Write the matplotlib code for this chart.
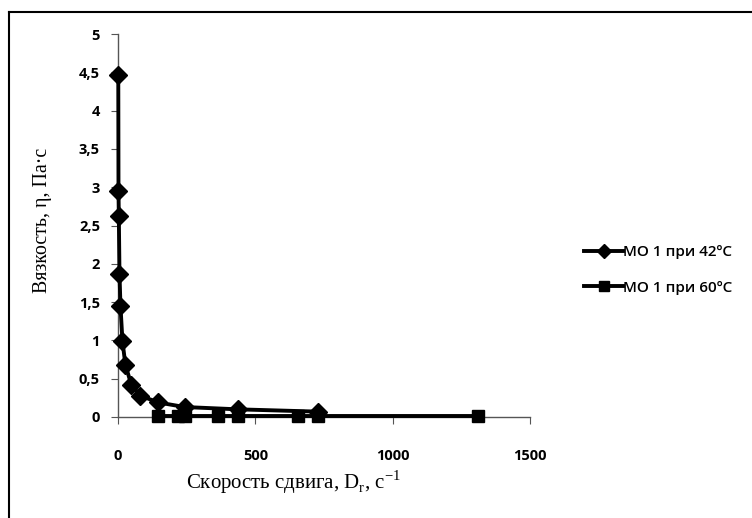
import numpy as np
import matplotlib
matplotlib.use("Agg")
import matplotlib.pyplot as plt
from matplotlib.ticker import FuncFormatter

# shear rate, 1/s  and viscosity, Pa*s
rate_42 = [1.0, 1.8, 3.0, 5.4, 9.0, 16.2, 27.0, 48.6, 81.0, 145.8, 243.0, 437.4, 729.0]
visc_42 = [4.47, 2.95, 2.62, 1.87, 1.45, 0.99, 0.68, 0.42, 0.28, 0.19, 0.13, 0.10, 0.07]
rate_60 = [145.8, 218.7, 243.0, 364.5, 437.4, 656.1, 729.0, 1312.0]
visc_60 = [0.01, 0.01, 0.01, 0.01, 0.01, 0.01, 0.01, 0.01]

labels = ["МО 1 при 42ºC", "МО 1 при 60ºC"]

W, H = 752, 518
fig = plt.figure(figsize=(W / 100, H / 100), dpi=100)
ax = fig.add_axes([118 / W, (H - 417) / H, 412 / W, 383 / H])

ax.plot(rate_42, visc_42, color="black", lw=2.8, marker="D", ms=9, label=labels[0],
        clip_on=False, zorder=3)
ax.plot(rate_60, visc_60, color="black", lw=2.8, marker="s", ms=8, label=labels[1],
        clip_on=False, zorder=3)

ax.set_xlim(0, 1500)
ax.set_ylim(0, 5)
ax.set_xticks([0, 500, 1000, 1500])
ax.set_yticks(np.arange(0, 5.01, 0.5))
ax.yaxis.set_major_formatter(FuncFormatter(lambda v, p: ("%g" % v).replace(".", ",")))

for s in ["top", "right"]:
    ax.spines[s].set_visible(False)
for s in ["left", "bottom"]:
    ax.spines[s].set_color("#555555")
    ax.spines[s].set_linewidth(1)
ax.tick_params(axis="both", direction="out", length=5, color="#555555",
               labelsize=10.5)
ax.tick_params(axis="y", pad=8)
ax.tick_params(axis="x", pad=18)
for t in ax.get_xticklabels() + ax.get_yticklabels():
    t.set_fontfamily("Open Sans")
    t.set_fontweight("bold")

ax.set_xlabel("Скорость сдвига, D$_{\\mathregular{r}}$, с$^{\\mathregular{-1}}$",
              family="Liberation Serif", fontsize=15)
ax.xaxis.set_label_coords(0.425, -0.17)
ax.xaxis.label.set_va("center")
ax.set_ylabel("Вязкость, η, Па·с", family="Liberation Serif", fontsize=14.3)
ax.yaxis.set_label_coords(-0.184, 0.514)
ax.yaxis.label.set_va("center")

leg = ax.legend(loc="center left", bbox_to_anchor=(570 / W, (H - 270) / H),
                bbox_transform=fig.transFigure, frameon=False,
                handlelength=2.6, handletextpad=0.0, labelspacing=1.4,
                prop={"family": "Open Sans", "size": 11, "weight": "semibold"})
for h in leg.legend_handles:
    h.set_markersize(7)

# chart border
fig.add_artist(plt.Line2D([8.5 / W, 8.5 / W], [0, (H - 12) / H], color="black", lw=1.5,
                          transform=fig.transFigure))
fig.add_artist(plt.Line2D([8.5 / W, 1], [(H - 12) / H, (H - 12) / H], color="black", lw=1.5,
                          transform=fig.transFigure))

fig.savefig("out.png", dpi=100)
